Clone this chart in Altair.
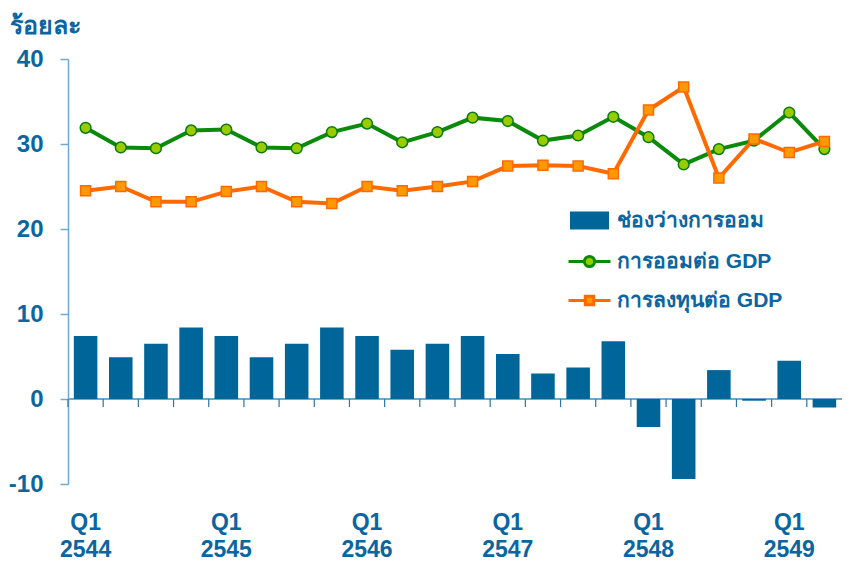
import altair as alt
import pandas as pd

periods = ["Q1 2544", "Q2 2544", "Q3 2544", "Q4 2544",
           "Q1 2545", "Q2 2545", "Q3 2545", "Q4 2545",
           "Q1 2546", "Q2 2546", "Q3 2546", "Q4 2546",
           "Q1 2547", "Q2 2547", "Q3 2547", "Q4 2547",
           "Q1 2548", "Q2 2548", "Q3 2548", "Q4 2548",
           "Q1 2549", "Q2 2549"]
gap = [7.4, 4.9, 6.5, 8.4, 7.4, 4.9, 6.5, 8.4, 7.4, 5.8, 6.5, 7.4,
       5.3, 3.0, 3.7, 6.8, -3.3, -9.4, 3.4, -0.2, 4.5, -1.0]
savings = [31.9, 29.6, 29.5, 31.6, 31.7, 29.6, 29.5, 31.4, 32.4, 30.2, 31.4, 33.1,
           32.7, 30.4, 31.0, 33.2, 30.8, 27.6, 29.4, 30.4, 33.7, 29.4]
investment = [24.5, 25.0, 23.2, 23.2, 24.4, 25.0, 23.2, 23.0, 25.0, 24.5, 25.0, 25.6,
              27.4, 27.5, 27.4, 26.5, 34.0, 36.7, 26.0, 30.6, 29.0, 30.3]

S_GAP = "ช่องว่างการออม"
S_SAV = "การออมต่อ GDP"
S_INV = "การลงทุนต่อ GDP"
series_names = [S_GAP, S_SAV, S_INV]

rows = []
for name, vals in [(S_GAP, gap), (S_SAV, savings), (S_INV, investment)]:
    for p, v in zip(periods, vals):
        q, yr = p.split(" ")
        rows.append({"period": p, "quarter": q, "year": yr, "series": name, "value": v})
df = pd.DataFrame(rows)

TXT = "#0b65a0"
AXC = "#6fa8d2"
FONT = "Liberation Sans"
H = 425
W = 774
PAD_IN = 0.33
STEP = W / len(periods)

x_scale = alt.Scale(paddingInner=PAD_IN, paddingOuter=PAD_IN / 2)
x_enc = alt.X("period:N", sort=periods, title=None, scale=x_scale, axis=None)
y_enc = alt.Y(
    "value:Q", title=None,
    scale=alt.Scale(domain=[-10, 40], nice=False),
    axis=alt.Axis(
        values=[-10, 0, 10, 20, 30, 40], grid=False,
        domainColor=AXC, domainWidth=1.5, tickColor=AXC, tickSize=8, tickWidth=1.5,
        labelFont=FONT, labelFontSize=24, labelFontWeight="bold", labelColor=TXT,
        labelPadding=17,
        labelExpr="datum.value < 0 ? '-' + (-datum.value) : datum.label",
    ),
)

base = alt.Chart(df)
gap_data = base.transform_filter(alt.datum.series == S_GAP)

zero_line = gap_data.mark_rule(color=AXC, strokeWidth=1.5).encode(y=alt.datum(0))
x_ticks = gap_data.mark_rule(color="#2a75aa", strokeWidth=1.2, xOffset=-STEP * PAD_IN / 2).encode(
    x=alt.X("period:N", sort=periods, title=None, scale=x_scale, axis=None, bandPosition=0),
    y=alt.datum(0), y2=alt.datum(-0.95),
)

bars = gap_data.mark_bar(color="#006699").encode(x=x_enc, y=y_enc)
sav_line = base.transform_filter(alt.datum.series == S_SAV).mark_line(color="#0a8a0a", strokeWidth=4).encode(x=x_enc, y=y_enc)
sav_pts = base.transform_filter(alt.datum.series == S_SAV).mark_point(
    shape="circle", filled=True, fill="#99cc00", stroke="#0a7a0a", strokeWidth=1.5, size=115, opacity=1
).encode(x=x_enc, y=y_enc)
inv_line = base.transform_filter(alt.datum.series == S_INV).mark_line(color="#ff6a00", strokeWidth=4).encode(x=x_enc, y=y_enc)
inv_pts = base.transform_filter(alt.datum.series == S_INV).mark_point(
    shape="square", filled=True, fill="#ff9900", stroke="#ff6a00", strokeWidth=1.5, size=100, opacity=1
).encode(x=x_enc, y=y_enc)

q1_data = gap_data.transform_filter(alt.datum.quarter == "Q1")
lab_q = q1_data.mark_text(dy=39, font=FONT, fontSize=23, fontWeight="bold", color=TXT).encode(
    x=x_enc, y=alt.datum(-10), text="quarter:N")
lab_y = q1_data.mark_text(dy=66, font=FONT, fontSize=23, fontWeight="bold", color=TXT).encode(
    x=x_enc, y=alt.datum(-10), text="year:N")

legend = alt.Legend(
    title=None, orient="none", legendX=511, legendY=151, padding=0,
    symbolSize=144, symbolStrokeWidth=3, symbolOpacity=1, rowPadding=16,
    labelOffset=17, labelFont=FONT, labelFontSize=21, labelFontWeight="bold",
    labelColor=TXT, labelLimit=400,
)
shape_paths = [
    "M-3,-1.25H3V1.25H-3Z",
    "M-3.5,0H-0.85M0.85,0H3.5M-0.85,0A0.85,0.85,0,1,0,0.85,0A0.85,0.85,0,1,0,-0.85,0Z",
    "M-3.5,0H-0.7M0.7,0H3.5M-0.7,-0.7H0.7V0.7H-0.7Z",
]
legend_layer = base.transform_filter(alt.datum.value > 1000).mark_point(filled=True, strokeWidth=3, opacity=1).encode(
    x=x_enc, y=y_enc,
    fill=alt.Fill("series:N", scale=alt.Scale(domain=series_names, range=["#006699", "#99cc00", "#ff9900"]), legend=legend),
    stroke=alt.Stroke("series:N", scale=alt.Scale(domain=series_names, range=["#006699", "#0a8a0a", "#ff6a00"]), legend=legend),
    shape=alt.Shape("series:N", scale=alt.Scale(domain=series_names, range=shape_paths), legend=legend),
)

chart = alt.layer(
    zero_line, x_ticks, bars, sav_line, inv_line, sav_pts, inv_pts, lab_q, lab_y, legend_layer
).properties(
    width=W, height=H, padding={"top": 6, "left": 0, "right": 0, "bottom": 0},
    title=alt.TitleParams("ร้อยละ", anchor="start", frame="bounds", font=FONT, fontSize=25,
                          fontWeight="bold", color=TXT, offset=8, dx=2),
).configure_view(stroke=None)

chart.save("out.html", embed_options={"renderer": "svg", "actions": False})
